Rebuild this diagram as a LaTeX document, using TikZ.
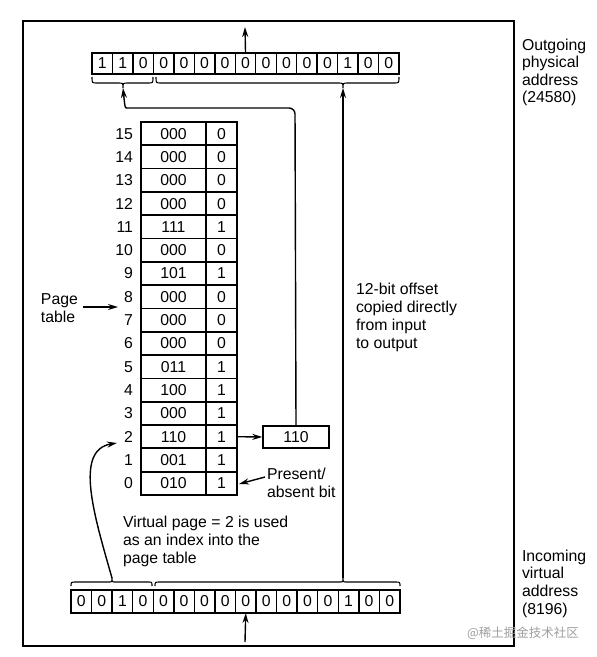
\documentclass[tikz,border=0pt]{standalone}
\usepackage{fontspec}
\setmainfont{Liberation Sans}
\newfontfamily\cjkfont{Noto Sans CJK SC}
\usetikzlibrary{arrows.meta}
\begin{document}
\begin{tikzpicture}[x=1pt,y=-1pt,
  txt/.style={font=\fontsize{15.8}{18}\selectfont, inner sep=0pt, outer sep=0pt},
  bitcell/.style={draw, line width=1.4pt, minimum width=20.5pt, inner sep=0pt, outer sep=0pt, font=\fontsize{15.8}{18}\selectfont},
  tcell/.style={draw, line width=1.7pt, minimum height=23.31pt, inner sep=0pt, outer sep=0pt, font=\fontsize{15.8}{18}\selectfont},
  arr/.style={line width=1.4pt, -{Stealth[length=10pt,width=6pt]}},
  brace/.style={line width=1.1pt},
]
\useasboundingbox (0,0) rectangle (597,657);
% frame
\draw[line width=1.9pt] (23,21) rectangle (514,646);

% top register (outgoing)
\foreach \d [count=\i] in {1,1,0,0,0,0,0,0,0,0,0,0,1,0,0}
  \node[bitcell, minimum height=21pt] (t\i) at ({92+20.47*(\i-0.5)}, 63.5) {\d};
% bottom register (incoming)
\foreach \d [count=\i] in {0,0,1,0,0,0,0,0,0,0,0,0,0,1,0,0}
  \node[bitcell, minimum height=23pt] (b\i) at ({71+20.56*(\i-0.5)}, 601.5) {\d};

% page table
\foreach \k/\f/\p in {15/000/0,14/000/0,13/000/0,12/000/0,11/111/1,10/000/0,9/101/1,8/000/0,7/000/0,6/000/0,5/011/1,4/100/1,3/000/1,2/110/1,1/001/1,0/010/1}{
  \node[tcell, minimum width=65pt] (pf\k) at (173.5, {122+23.31*(15-\k+0.5)}) {\f};
  \node[tcell, minimum width=31pt] (pb\k) at (221.5, {122+23.31*(15-\k+0.5)}) {\p};
  \node[txt, anchor=east] (idx\k) at (133, {122+23.31*(15-\k+0.5)}) {\k};
}

% output frame box
\node[draw, line width=1.4pt, minimum width=66pt, minimum height=22pt, inner sep=0pt, font=\fontsize{15.8}{18}\selectfont] (box) at (296,437) {110};

% braces
\coordinate (tlt) at (123,88);
\coordinate (trt) at (343,88);
\coordinate (blt) at (112,578);
\coordinate (brt) at (343,578);
\draw[brace] (92,77) .. controls (92,83) .. (97,83) -- (118,83) .. controls (123,83) .. (tlt) .. controls (123,83) .. (128,83) -- (148,83) .. controls (153,83) .. (153,77);
\draw[brace] (156,77) .. controls (156,83) .. (161,83) -- (338,83) .. controls (343,83) .. (trt) .. controls (343,83) .. (348,83) -- (394,83) .. controls (399,83) .. (399,77);
\draw[brace] (71,586) .. controls (71,582) .. (76,582) -- (108,582) .. controls (112,582) .. (blt) .. controls (112,582) .. (116,582) -- (148,582) .. controls (152,582) .. (152,586);
\draw[brace] (155,586) .. controls (155,582) .. (160,582) -- (339,582) .. controls (343,582) .. (brt) .. controls (343,582) .. (347,582) -- (395,582) .. controls (400,582) .. (400,586);

% arrows
\coordinate (outtip) at (245,27);
\coordinate (inbase) at (245,642);
\draw[arr] (t8.north) -- (outtip);
\draw[arr] (inbase) -- (b9.south);
\draw[arr] (brt) -- (trt);
\draw[arr] (pb2.east) -- (box.west);
\draw[arr, rounded corners=6pt] (box.north) -- (295,108) -- (133,108) .. controls (125,108) .. (tlt);
\coordinate (idxtip) at (117,443);
\draw[arr] (blt) .. controls (94,515) and (74,450) .. (idxtip);

% labels
\foreach \t [count=\n] in {Outgoing,physical,address,(24580)}
  \node[txt, anchor=base west] (out\n) at (522, {50+17.6*(\n-1)}) {\t};
\foreach \t [count=\n] in {Incoming,virtual,address,(8196)}
  \node[txt, anchor=base west] (in\n) at (522, {561+17.7*(\n-1)}) {\t};
\foreach \t [count=\n] in {12-bit offset,copied directly,from input,to output}
  \node[txt, anchor=base west] (off\n) at (356, {294+18.3*(\n-1)}) {\t};
\foreach \t [count=\n] in {Virtual page = 2 is used,as an index into the,page table}
  \node[txt, anchor=base west] (vp\n) at (123, {527+18*(\n-1)}) {\t};
\node[txt, anchor=base west] (pg1) at (41,304) {Page};
\node[txt, anchor=base west] (pg2) at (41,322) {table};
\coordinate (pgfrom) at (83,307);
\coordinate (pgto) at (118,307);
\draw[arr] (pgfrom) -- (pgto);
\node[txt, anchor=base west] (pa1) at (267,479) {Present/};
\node[txt, anchor=base west] (pa2) at (267,497) {absent bit};
\coordinate (pafrom) at (265,477);
\coordinate (pato) at (239,484);
\draw[arr] (pafrom) -- (pato);

% watermark
\node[inner sep=0pt, font=\cjkfont\fontsize{12.5}{14}\selectfont, text=black!38] (wm) at (523,633) {@稀土掘金技术社区};
\end{tikzpicture}
\end{document}
